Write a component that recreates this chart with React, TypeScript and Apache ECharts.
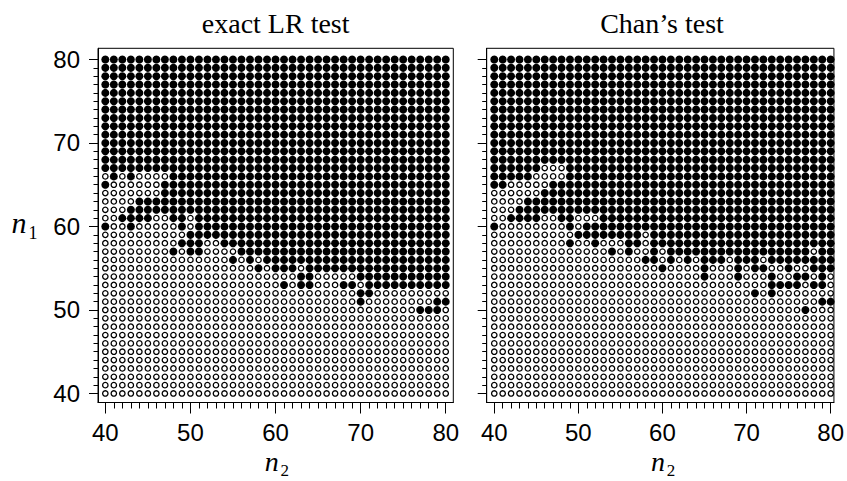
import React, { useEffect, useRef } from "react";
import * as echarts from "echarts";

// n2 (columns) and n1 (rows) values
const n2Cols = [40, 41, 42, 43, 44, 45, 46, 47, 48, 49, 50, 51, 52, 53, 54, 55, 56, 57, 58, 59, 60,
  61, 62, 63, 64, 65, 66, 67, 68, 69, 70, 71, 72, 73, 74, 75, 76, 77, 78, 79, 80];
const allRows = [40, 41, 42, 43, 44, 45, 46, 47, 48, 49, 50, 51, 52, 53, 54, 55, 56, 57, 58, 59, 60,
  61, 62, 63, 64, 65, 66, 67, 68, 69, 70, 71, 72, 73, 74, 75, 76, 77, 78, 79, 80];
const filledRows = [80, 79, 78, 77, 76, 75, 74, 73, 72, 71, 70]; // rejected everywhere
const openRows = [46, 45, 44, 43, 42, 41, 40]; // accepted everywhere
const bandRows = [69, 68, 67, 66, 65, 64, 63, 62, 61, 60, 59, 58, 57, 56, 55, 54, 53, 52, 51, 50, 49, 48, 47];

// x = rejected (filled), o = not rejected (open); groups: n2 40-49, 50-59, 60-69, 70-79, 80
const exactLR = [
  "xxxxxxxxxx xxxxxxxxxx xxxxxxxxxx xxxxxxxxxx x", // 69
  "xxxxxxxxxx xxxxxxxxxx xxxxxxxxxx xxxxxxxxxx x", // 68
  "xxxxxxxxxx xxxxxxxxxx xxxxxxxxxx xxxxxxxxxx x", // 67
  "oxoxooooxx xxxxxxxxxx xxxxxxxxxx xxxxxxxxxx x", // 66
  "xooooooxxx xxxxxxxxxx xxxxxxxxxx xxxxxxxxxx x", // 65
  "oooooooxxx xxxxxxxxxx xxxxxxxxxx xxxxxxxxxx x", // 64
  "ooooxxxxxx xxxxxxxxxx xxxxxxxxxx xxxxxxxxxx x", // 63
  "oooxxxxxxx xxxxxxxxxx xxxxxxxxxx xxxxxxxxxx x", // 62
  "ooxxxxooxx oxxxxxxxxx xxxxxxxxxx xxxxxxxxxx x", // 61
  "xooxooooox oxxxxxxxxx xxxxxxxxxx xxxxxxxxxx x", // 60
  "oooooooooo xxxxxxxxxx xxxxxxxxxx xxxxxxxxxx x", // 59
  "ooooooooox xxooxxxxxx xxxxxxxxxx xxxxxxxxxx x", // 58
  "ooooooooxo xxooooxxxx xxxxxxxxxx xxxxxxxxxx x", // 57
  "oooooooooo oooooxoxox xxxxxxxxxx xxxxxxxxxx x", // 56
  "oooooooooo ooooooooxo xxxoxxxxxx xxxxxxxxxx x", // 55
  "oooooooooo oooooooooo oooxxooooo xxxxxxxxxx x", // 54
  "oooooooooo oooooooooo oxoxxoooxx oxxxxxxxxx x", // 53
  "oooooooooo oooooooooo oooooooooo xxoooooooo o", // 52
  "oooooooooo oooooooooo oooooooooo xoooooooox x", // 51
  "oooooooooo oooooooooo oooooooooo oooooooxxx o", // 50
  "oooooooooo oooooooooo oooooooooo oooooooooo o", // 49
  "oooooooooo oooooooooo oooooooooo oooooooooo o", // 48
  "oooooooooo oooooooooo oooooooooo oooooooooo o", // 47
];

const chanTest = [
  "xxxxxxxxxx xxxxxxxxxx xxxxxxxxxx xxxxxxxxxx x", // 69
  "xxxxxxxxxx xxxxxxxxxx xxxxxxxxxx xxxxxxxxxx x", // 68
  "xxxxxxooox xxxxxxxxxx xxxxxxxxxx xxxxxxxxxx x", // 67
  "xxxxxoooox xxxxxxxxxx xxxxxxxxxx xxxxxxxxxx x", // 66
  "xxoooooxxx xxxxxxxxxx xxxxxxxxxx xxxxxxxxxx x", // 65
  "ooooooxxxx xxxxxxxxxx xxxxxxxxxx xxxxxxxxxx x", // 64
  "ooooxxxxxx xxxxxxxxxx xxxxxxxxxx xxxxxxxxxx x", // 63
  "oooxxxxxxx xxxxxxxxxx xxxxxxxxxx xxxxxxxxxx x", // 62
  "ooxxxxooxx oooxxxxxxx xxxxxxxxxx xxxxxxxxxx x", // 61
  "xoooooooox oxxxxxxxxx xxxxxxxxxx xxxxxxxxxx x", // 60
  "oooooooooo xxxxxxxxox xxxxxxxxxx xxxxxxxxxx x", // 59
  "ooooooooox ooxoooxxox xxxxxxxxxx xxxxxxxxxx x", // 58
  "oooooooooo ooooxoxoox oxxxxxxxxx xxxxxxxxox x", // 57
  "oooooooooo ooooooooxx oxoxoxxxox xxoxxxxxxx x", // 56
  "oooooooooo oooooooooo xooooxooox oxxooxooxx x", // 55
  "oooooooooo oooooooooo oooooxooox oooxooxxox o", // 54
  "oooooooooo oooooooooo oooooooooo oooxxxxoxx o", // 53
  "oooooooooo oooooooooo oooooooooo oxoxoooooo o", // 52
  "oooooooooo oooooooooo oooooooooo ooooooooox x", // 51
  "oooooooooo oooooooooo oooooooooo oooooooxoo o", // 50
  "oooooooooo oooooooooo oooooooooo oooooooooo o", // 49
  "oooooooooo oooooooooo oooooooooo oooooooooo o", // 48
  "oooooooooo oooooooooo oooooooooo oooooooooo o", // 47
];

const xMajor = [40, 50, 60, 70, 80];
const yMajor = [40, 50, 60, 70, 80];
const panelTitles = ["exact LR test", "Chan\u2019s test"];

function buildPoints(band: string[]) {
  const filled: number[][] = [];
  const open: number[][] = [];
  filledRows.forEach((r) => n2Cols.forEach((c) => filled.push([c, r])));
  openRows.forEach((r) => n2Cols.forEach((c) => open.push([c, r])));
  band.forEach((line, i) => {
    const s = line.replace(/ /g, "");
    n2Cols.forEach((c, j) => {
      if (s[j] === "x") filled.push([c, bandRows[i]]);
      else open.push([c, bandRows[i]]);
    });
  });
  return { filled, open };
}

const SANS = "'Liberation Sans', Arial, Helvetica, sans-serif";
const SERIF = "'Liberation Serif', 'Times New Roman', serif";

export default function App() {
  const ref = useRef<HTMLDivElement>(null);
  useEffect(() => {
    document.body.style.margin = "0";
    if (!ref.current) return;
    const chart = echarts.init(ref.current, undefined, { renderer: "svg" });

    const Y_MIN = 38.92, Y_MAX = 81.34;
    const grids = [
      { left: 98, top: 48.3, width: 355.3, height: 354.2, xMin: 39.14, xMax: 80.89 },
      { left: 486.7, top: 48.3, width: 350.6, height: 354.2, xMin: 39.1, xMax: 80.39 },
    ];
    const xAxes: any[] = [];
    const yAxes: any[] = [];
    const series: any[] = [];
    const panels = [buildPoints(exactLR), buildPoints(chanTest)];

    grids.forEach((g, gi) => {
      xAxes.push({
        gridIndex: gi, type: "value", min: g.xMin, max: g.xMax, position: "bottom",
        axisLine: { show: true, onZero: false, lineStyle: { color: "#000", width: 1 } },
        axisTick: { show: true, customValues: xMajor, length: 11, lineStyle: { color: "#000", width: 1 } },
        axisLabel: { show: true, customValues: xMajor, margin: 18, fontSize: 24, color: "#000", fontFamily: SANS },
        splitLine: { show: false },
      });
      xAxes.push({
        gridIndex: gi, type: "value", min: g.xMin, max: g.xMax, position: "bottom",
        axisLine: { show: false, onZero: false },
        axisTick: { show: true, customValues: n2Cols, length: 6, lineStyle: { color: "#000", width: 1 } },
        axisLabel: { show: false },
        splitLine: { show: false },
      });
      yAxes.push({
        gridIndex: gi, type: "value", min: Y_MIN, max: Y_MAX, position: "left",
        axisLine: { show: true, onZero: false, lineStyle: { color: "#000", width: 1 } },
        axisTick: { show: true, customValues: yMajor, length: 9, lineStyle: { color: "#000", width: 1 } },
        axisLabel: { show: gi === 0, customValues: yMajor, margin: 18, fontSize: 24, color: "#000", fontFamily: SANS },
        splitLine: { show: false },
      });
      yAxes.push({
        gridIndex: gi, type: "value", min: Y_MIN, max: Y_MAX, position: "left",
        axisLine: { show: false, onZero: false },
        axisTick: { show: true, customValues: allRows, length: 4.5, lineStyle: { color: "#000", width: 1 } },
        axisLabel: { show: false },
        splitLine: { show: false },
      });
      const p = panels[gi];
      series.push({
        type: "scatter", xAxisIndex: 2 * gi, yAxisIndex: 2 * gi, data: p.open,
        symbol: "circle", symbolSize: 5.4,
        itemStyle: { color: "#fff", borderColor: "#000", borderWidth: 1.3, opacity: 1 },
        emphasis: { disabled: true }, silent: true,
      });
      series.push({
        type: "scatter", xAxisIndex: 2 * gi, yAxisIndex: 2 * gi, data: p.filled,
        symbol: "circle", symbolSize: 8,
        itemStyle: { color: "#000", borderWidth: 0, opacity: 1 },
        emphasis: { disabled: true }, silent: true,
      });
    });

    const graphic: any[] = [];
    grids.forEach((g, gi) => {
      const cx = g.left + g.width / 2;
      graphic.push({
        type: "text", x: cx, y: 23,
        style: { text: panelTitles[gi], font: `28px ${SERIF}`, fill: "#000", align: "center", verticalAlign: "middle" },
      });
      graphic.push({
        type: "text", x: cx - 4, y: 461,
        style: { text: "n", font: `italic 28px ${SERIF}`, fill: "#000", align: "center", verticalAlign: "middle" },
      });
      graphic.push({
        type: "text", x: cx + 9, y: 470,
        style: { text: "2", font: `17px ${SERIF}`, fill: "#000", align: "center", verticalAlign: "middle" },
      });
    });
    graphic.push({
      type: "text", x: 19, y: 222,
      style: { text: "n", font: `italic 30px ${SERIF}`, fill: "#000", align: "center", verticalAlign: "middle" },
    });
    graphic.push({
      type: "text", x: 33, y: 233,
      style: { text: "1", font: `18px ${SERIF}`, fill: "#000", align: "center", verticalAlign: "middle" },
    });

    chart.setOption({
      animation: false,
      backgroundColor: "#fff",
      grid: grids.map((g) => ({
        left: g.left, top: g.top, width: g.width, height: g.height,
        show: true, borderColor: "#000", borderWidth: 1, backgroundColor: "transparent",
      })),
      xAxis: xAxes,
      yAxis: yAxes,
      series,
      graphic,
    });
    return () => chart.dispose();
  }, []);
  return <div ref={ref} style={{ width: 847, height: 481 }} />;
}
